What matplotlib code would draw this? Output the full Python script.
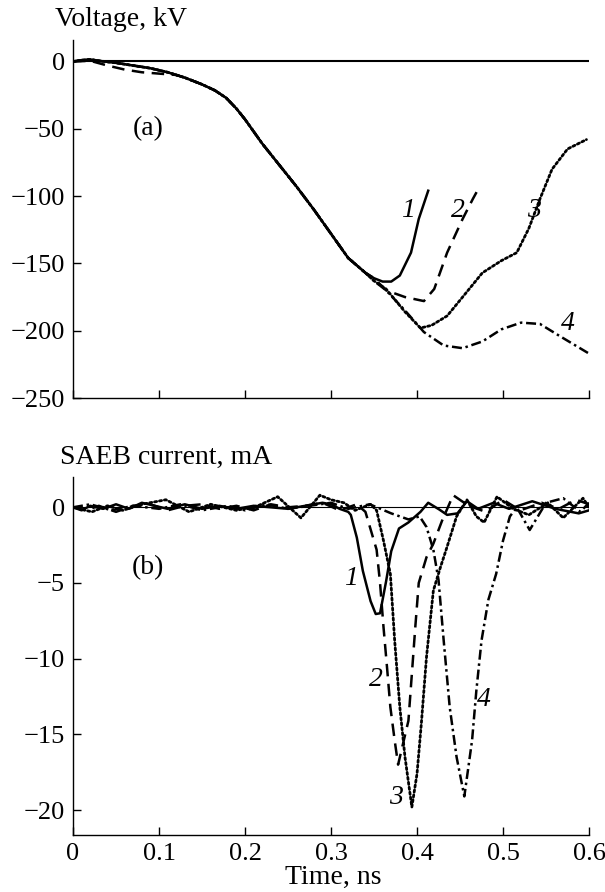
import matplotlib
matplotlib.use("Agg")
import matplotlib.pyplot as plt

plt.rcParams['font.family'] = ['Liberation Serif', 'DejaVu Serif']
plt.rcParams['font.size'] = 19

# (a) voltage, kV
t_common = [0, 0.01, 0.02, 0.03, 0.05, 0.07, 0.09, 0.11, 0.13, 0.15, 0.165, 0.178, 0.19,
            0.20, 0.22, 0.24, 0.26, 0.28, 0.30, 0.32, 0.34, 0.35]
v_common = [0, 1, 1.5, 0.5, -1, -3, -5, -8, -12, -17, -21.5, -27, -35,
            -43, -61, -77, -93, -110, -128, -146, -157, -161]

t_v1 = t_common + [0.36, 0.37, 0.38, 0.393, 0.402, 0.413]
v_v1 = v_common + [-163.5, -163.5, -159, -142, -117, -96]

t_v2 = [0, 0.02, 0.04, 0.06, 0.08, 0.10, 0.12] + t_common[8:] + [0.364, 0.386, 0.408, 0.42, 0.435, 0.453, 0.465, 0.471]
v_v2 = [0, 0.5, -3, -6, -8, -9, -10] + v_common[8:] + [-170, -175, -178, -169, -142, -117, -102, -95]

t_v3 = t_common + [0.364, 0.386, 0.404, 0.417, 0.435, 0.453, 0.476, 0.498, 0.516,
                   0.53, 0.543, 0.557, 0.575, 0.597]
v_v3 = v_common[:-1] + [-163] + [-169, -186, -198, -196, -189, -175, -157, -148, -142,
                                  -124, -102, -80, -65, -58]

t_v4 = t_common + [0.364, 0.386, 0.408, 0.431, 0.453, 0.476, 0.498, 0.521, 0.543, 0.566, 0.6]
v_v4 = v_common[:-1] + [-163] + [-170, -185, -201, -211, -213, -208, -199, -194, -195, -204, -217]

# (b) SAEB current, mA
t_i1 = [0, 0.01, 0.02, 0.035, 0.05, 0.065, 0.08, 0.095, 0.11, 0.13, 0.15, 0.17, 0.19,
        0.21, 0.23, 0.25, 0.27, 0.29, 0.30, 0.31, 0.32, 0.323, 0.33, 0.337, 0.346, 0.352,
        0.357, 0.364, 0.37, 0.379, 0.39, 0.404, 0.413, 0.426, 0.435, 0.447, 0.458, 0.471,
        0.489, 0.507, 0.534, 0.561, 0.588, 0.6]
i_i1 = [0, -0.2, 0.1, -0.1, 0.2, -0.1, 0.3, 0.1, -0.1, 0.2, -0.1, 0.1, -0.1,
        0.1, 0, -0.1, 0.1, 0.3, 0.2, -0.1, -0.3, -0.5, -2, -4.2, -6.2, -7.05,
        -7.0, -4.9, -2.9, -1.4, -1.0, -0.3, 0.3, -0.15, -0.5, -0.4, 0.4, -0.1,
        0.3, -0.1, 0.4, -0.1, -0.4, -0.2]

t_i2 = [0, 0.015, 0.03, 0.05, 0.07, 0.09, 0.11, 0.13, 0.15, 0.17, 0.19, 0.21, 0.23,
        0.25, 0.27, 0.29, 0.31, 0.33, 0.34, 0.353, 0.357, 0.361, 0.365, 0.369, 0.374,
        0.378, 0.39, 0.398, 0.402, 0.411, 0.419, 0.429, 0.442, 0.46, 0.48, 0.5, 0.52,
        0.545, 0.565, 0.585, 0.6]
i_i2 = [0, -0.2, 0.1, -0.3, 0.1, 0.2, -0.2, 0.1, 0.2, -0.1, 0.1, -0.2, 0.2,
        0, 0.1, 0.3, -0.2, 0.2, -0.3, -2.8, -5.0, -7.9, -10.5, -13.2, -15.4,
        -17.0, -14.1, -7.9, -5.0, -3.3, -2.4, -0.9, 0.8, 0.1, -0.3, 0.5, -0.2,
        0.3, -0.1, 0.5, 0.2]

t_i3 = [0, 0.022, 0.04, 0.058, 0.08, 0.108, 0.135, 0.16, 0.19, 0.215, 0.238, 0.265,
        0.287, 0.30, 0.315, 0.328, 0.346, 0.353, 0.361, 0.369, 0.374, 0.38, 0.386,
        0.394, 0.40, 0.405, 0.411, 0.419, 0.427, 0.435, 0.446, 0.458, 0.469, 0.478,
        0.493, 0.512, 0.53, 0.552, 0.57, 0.593, 0.6]
i_i3 = [0, -0.3, 0.1, -0.2, 0.2, 0.5, -0.3, 0.2, -0.2, 0.1, 0.7, -0.7,
        0.8, 0.5, 0.3, -0.2, 0.2, -0.2, -2.2, -4.4, -8.8, -13.2, -16.5,
        -19.8, -17.6, -14.3, -9.9, -5.5, -4.0, -2.6, -0.6, 0.5, -0.6, -1.0,
        0.7, -0.1, -0.5, 0.3, -0.7, 0.6, 0.0]

t_i4 = [0, 0.02, 0.045, 0.07, 0.1, 0.125, 0.15, 0.18, 0.2, 0.225, 0.25, 0.275, 0.3,
        0.32, 0.345, 0.37, 0.39, 0.403, 0.411, 0.419, 0.425, 0.431, 0.438, 0.446,
        0.455, 0.464, 0.469, 0.475, 0.483, 0.492, 0.5, 0.508, 0.516, 0.531, 0.55,
        0.57, 0.59, 0.6]
i_i4 = [0, 0.2, -0.2, 0.1, -0.1, 0.2, -0.2, 0.1, -0.2, 0.2, -0.1, 0.1, 0.3,
        -0.1, 0.2, -0.4, -0.8, -0.6, -1.3, -2.8, -4.8, -8.8, -13.2, -16.5,
        -19.1, -15.4, -12.1, -8.8, -6.1, -4.4, -2.2, -0.6, 0.0, -1.5, 0.3,
        0.6, -0.3, 0.3]

styles = [
    dict(linestyle='-', lw=1.8),
    dict(linestyle=(0, (5, 3)), lw=1.8),
    dict(linestyle=(0, (0.8, 1.0)), lw=2.0, dash_capstyle='round'),
    dict(linestyle=(0, (4, 1.5, 1, 1.5)), lw=1.8),
]

fig = plt.figure(figsize=(6.05, 8.92), dpi=100)
ax1 = fig.add_axes([0.1207, 0.5538, 0.8529, 0.4014])
ax2 = fig.add_axes([0.1207, 0.0639, 0.8529, 0.4013])

ax1.axhline(0, color='black', lw=1.5)
for (t, v), st in zip([(t_v1, v_v1), (t_v2, v_v2), (t_v3, v_v3), (t_v4, v_v4)], styles):
    ax1.plot(t, v, color='black', **st)

ax2.axhline(0, color='black', lw=0.8)
for (t, c), st in zip([(t_i1, i_i1), (t_i2, i_i2), (t_i3, i_i3), (t_i4, i_i4)], styles):
    ax2.plot(t, c, color='black', **st)

ax1.set_xlim(0, 0.6)
ax1.set_ylim(-250, 16)
ax1.set_yticks([0, -50, -100, -150, -200, -250])
ax2.set_xlim(0, 0.6)
ax2.set_ylim(-21.65, 2)
ax2.set_yticks([0, -5, -10, -15, -20])

for ax in (ax1, ax2):
    ax.set_xticks([0, 0.1, 0.2, 0.3, 0.4, 0.5, 0.6])
    ax.spines['top'].set_visible(False)
    ax.spines['right'].set_visible(False)
    ax.spines['left'].set_linewidth(1.0)
    ax.spines['bottom'].set_linewidth(1.0)
    ax.tick_params(direction='in', length=6, width=1.0, pad=6, labelsize=19)
ax1.tick_params(axis='x', labelbottom=False)
ax2.set_xticklabels(['0', '0.1', '0.2', '0.3', '0.4', '0.5', '0.6'])

ax1.text(0.0875, -50, "(a)", ha='center', va='center', fontsize=20)
ax2.text(0.0875, -4.0, "(b)", ha='center', va='center', fontsize=20)

num_a = [(0.39, -111, "1"), (0.447, -111, "2"), (0.536, -111, "3"), (0.575, -195, "4")]
for x, y, s in num_a:
    ax1.text(x, y, s, ha='center', va='center', fontsize=20, style='italic')
num_b = [(0.323, -4.7, "1"), (0.352, -11.4, "2"), (0.375, -19.2, "3"), (0.478, -12.7, "4")]
for x, y, s in num_b:
    ax2.text(x, y, s, ha='center', va='center', fontsize=20, style='italic')

fig.text(55 / 605, 1 - 20 / 892, "Voltage, kV", ha='left', va='center', fontsize=20)
fig.text(60 / 605, 1 - 457 / 892, "SAEB current, mA", ha='left', va='center', fontsize=20)
fig.text(333 / 605, 1 - 877 / 892, "Time, ns", ha='center', va='center', fontsize=20)

fig.savefig("out.png", dpi=100)
